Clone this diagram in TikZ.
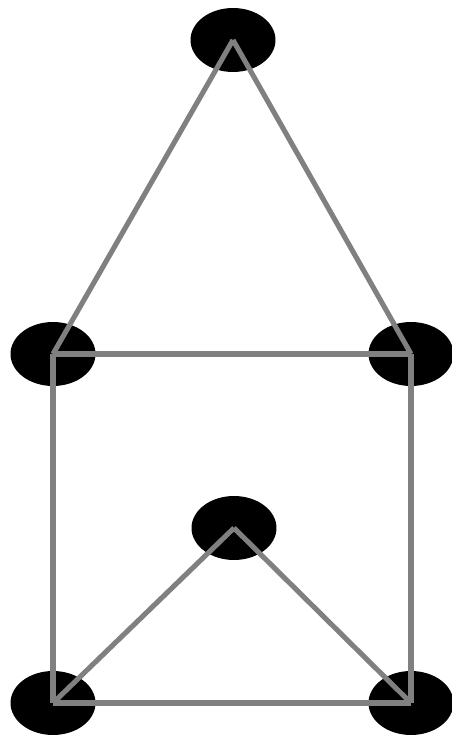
\documentclass[tikz,border=0pt]{standalone}
\usepackage{tikz}
\usetikzlibrary{shapes.geometric}

\begin{document}
\begin{tikzpicture}[x=0.02cm, y=0.02cm,
        vertex/.style={ellipse, fill=black, inner sep=0pt, minimum width=1.7cm, minimum height=1.28cm},
        edge/.style={draw=gray, line width=2.9pt}]
            % Fix the canvas
            \useasboundingbox (0,0) rectangle (452,738);

            % Draw the vertices
            \node[vertex] (top) at (233,698) {};
            \node[vertex] (midL) at (53,384) {};
            \node[vertex] (midR) at (411,384) {};
            \node[vertex] (inner) at (234,210) {};
            \node[vertex] (botL) at (53,35) {};
            \node[vertex] (botR) at (411,35) {};

            % Draw the edges on top of the vertices
            \foreach \a/\b in {top/midL, top/midR, midL/midR, midL/botL, midR/botR, botL/botR, inner/botL, inner/botR}
                {
                    \draw[edge] (\a.center) -- (\b.center);
                }

        \end{tikzpicture}
\end{document}
